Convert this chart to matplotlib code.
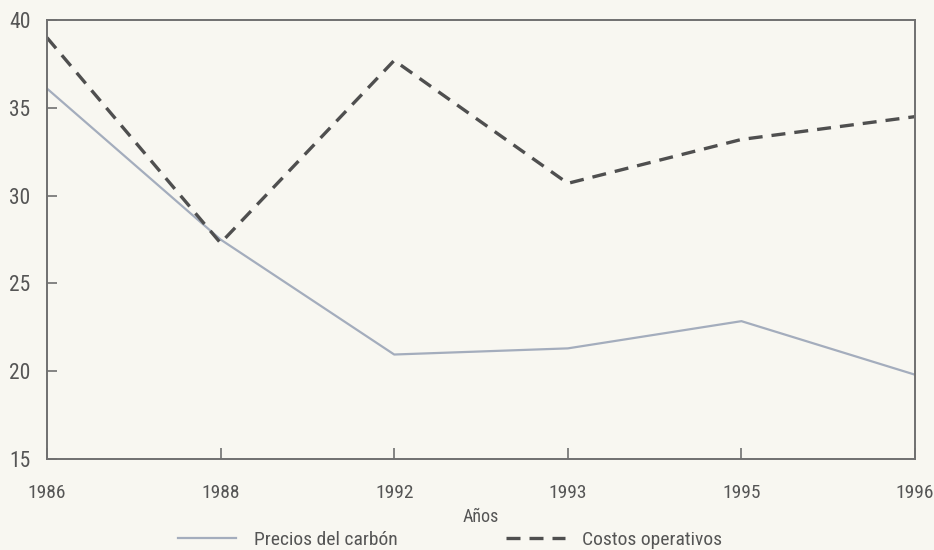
import matplotlib
matplotlib.use("Agg")
import matplotlib.pyplot as plt
from matplotlib import font_manager

years = ["1986", "1988", "1992", "1993", "1995", "1996"]
precios_carbon = [36.1, 27.5, 20.95, 21.3, 22.85, 19.8]
costos_operativos = [39.0, 27.3, 37.7, 30.7, 33.2, 34.5]
y_ticks = [15, 20, 25, 30, 35, 40]

# pick a condensed sans close to the printed one
names = {f.name for f in font_manager.fontManager.ttflist}
fam = "DejaVu Sans"
for cand in ["Liberation Sans Narrow", "Roboto Condensed", "Archivo Narrow", "PT Sans Narrow", "Arimo"]:
    if cand in names:
        fam = cand
        break
plt.rcParams['font.family'] = [fam, 'DejaVu Sans']

bg = "#f8f7f1"
txt = "#555555"
spine = "#707070"

fig = plt.figure(figsize=(9.34, 5.5), dpi=100, facecolor=bg)
ax = fig.add_axes([0.0503, 0.1655, 0.9294, 0.798])
ax.set_facecolor(bg)

x = list(range(len(years)))
l1, = ax.plot(x, precios_carbon, color="#a4adbd", lw=1.6, label="Precios del carbón")
l2, = ax.plot(x, costos_operativos, color="#4f4f4f", lw=2.4, dashes=(4.2, 2.7),
              label="Costos operativos")

ax.set_xlim(0, len(years) - 1)
ax.set_ylim(15, 40)
ax.set_xticks(x)
ax.set_xticklabels(years)
ax.set_yticks(y_ticks)

for s in ax.spines.values():
    s.set_color(spine)
    s.set_linewidth(1.4)

ax.tick_params(axis="y", direction="in", length=7, width=1.2, color=spine,
               labelsize=15.5, labelcolor=txt, pad=12, left=True, right=False)
ax.tick_params(axis="x", direction="in", length=8, width=1.2, color=spine,
               labelsize=14, labelcolor=txt, pad=18, bottom=True, top=False)

ax.set_xlabel("Años", fontsize=13, color=txt, labelpad=4)

fig.legend(handles=[l1, l2], loc="center", bbox_to_anchor=(0.482, 0.018), ncol=2,
           frameon=False, fontsize=14, labelcolor=txt, columnspacing=5.6,
           handlelength=3.0, handletextpad=0.9)

fig.savefig("out.png", dpi=100, facecolor=bg)
